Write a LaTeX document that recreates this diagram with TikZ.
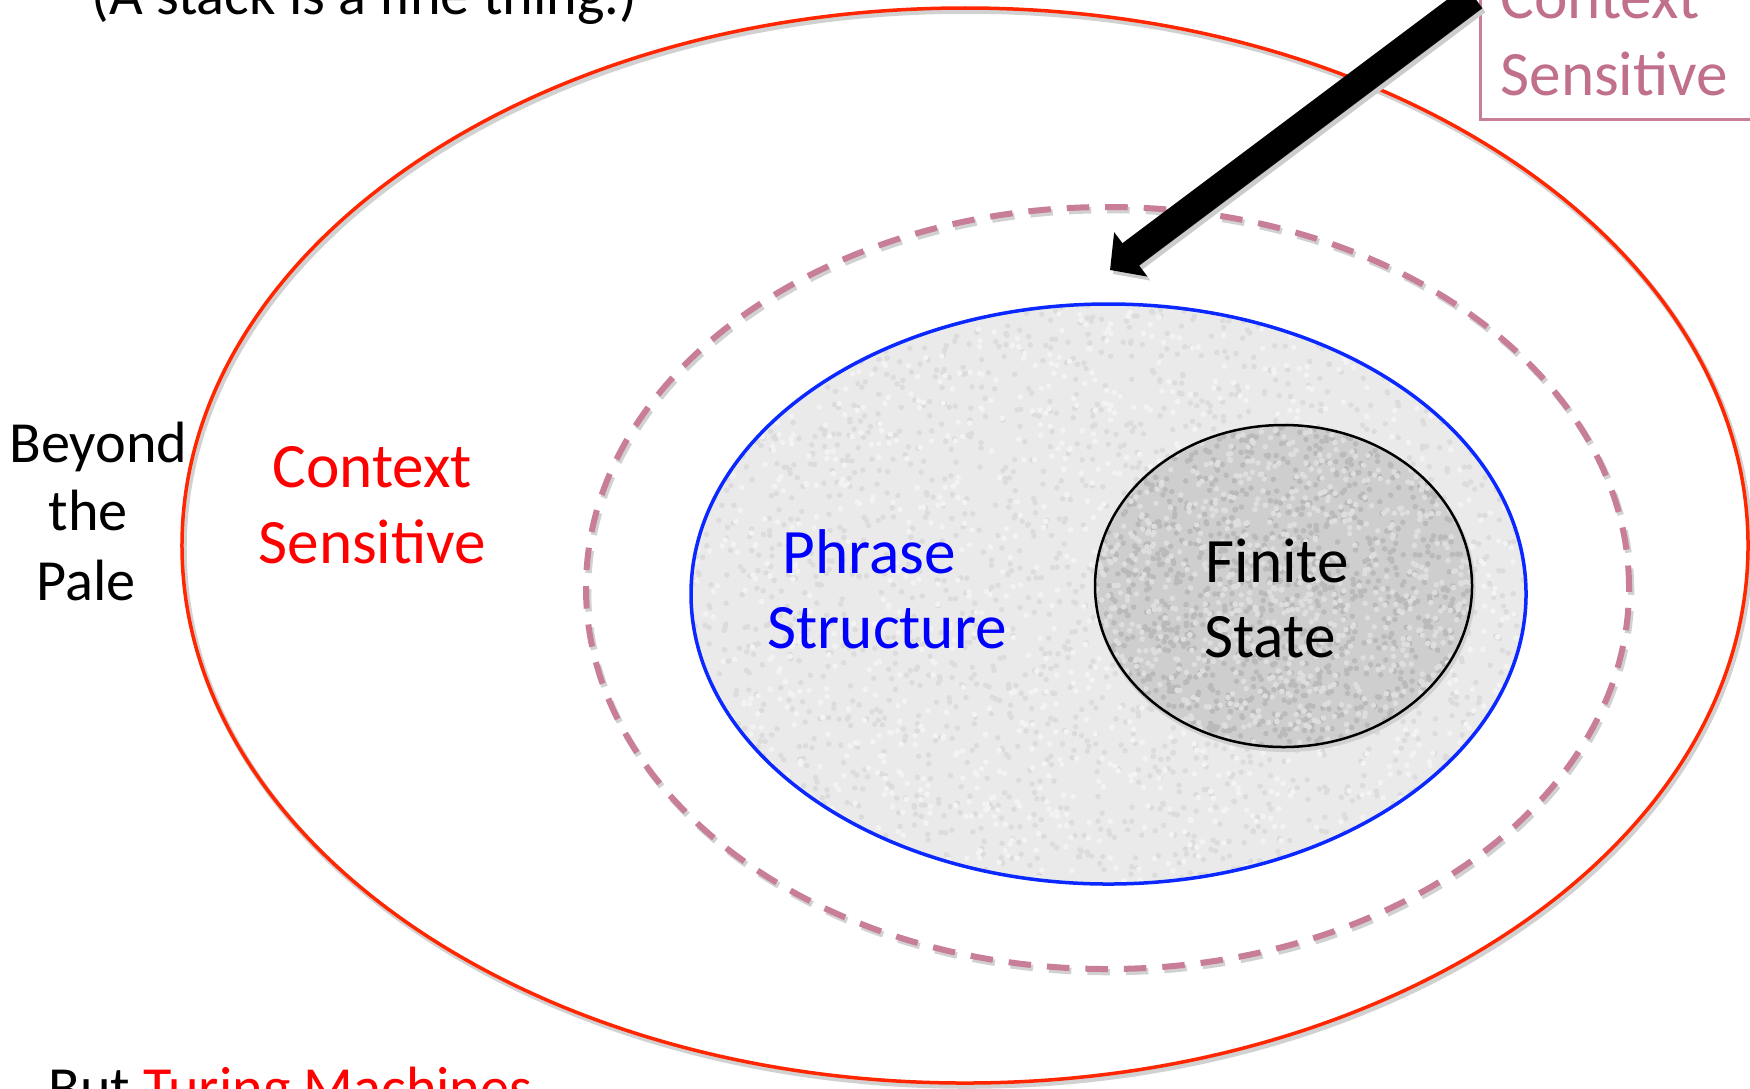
\documentclass[tikz,border=0pt]{standalone}
\usepackage{fontspec}
\setmainfont{Carlito}
\usetikzlibrary{arrows.meta}
\definecolor{cred}{RGB}{255,38,0}
\definecolor{tred}{RGB}{255,0,0}
\definecolor{cblue}{RGB}{10,40,255}
\definecolor{tblue}{RGB}{0,0,255}
\definecolor{mauve}{RGB}{200,125,152}
\definecolor{mauvetext}{RGB}{192,112,140}
\definecolor{fillA}{RGB}{234,234,234}
\definecolor{grainAd}{RGB}{220,220,220}
\definecolor{grainAl}{RGB}{243,243,243}
\definecolor{fillB}{RGB}{206,206,206}
\definecolor{grainBd}{RGB}{186,186,186}
\definecolor{grainBl}{RGB}{222,222,222}
\begin{document}
\begin{tikzpicture}[x=0.4pt,y=-0.4pt,
  lbl/.style={anchor=base west, inner sep=0pt, font=\fontsize{25.3pt}{30.4pt}\selectfont},
  small/.style={anchor=base west, inner sep=0pt, font=\fontsize{23.3pt}{28pt}\selectfont},
  shade/.style={draw=black!18, line width=#1},
  dashring/.style={draw=mauve, line width=2.4pt, dash pattern=on 9pt off 6.4pt},
  bigarrow/.style={line width=11.2pt, -{Triangle[length=10.4pt, width=21.6pt]}},
]
\useasboundingbox (0,0) rectangle (1750,1088);
\fill[white] (0,0) rectangle (1750,1088);
\pgfmathsetseed{4242}

% outer red ellipse (with soft shadow)
\draw[shade=2.2pt] (967,548.5) ellipse [x radius=313.2pt, y radius=215pt];
\draw[cred, line width=1.4pt] (965,545.5) ellipse [x radius=313.2pt, y radius=215pt];

% dashed ellipse
\draw[shade=2.6pt, dash pattern=on 9pt off 6.4pt] (1109.5,591) ellipse [x radius=208.6pt, y radius=152.4pt];
\draw[dashring] (1107.5,588) ellipse [x radius=208.6pt, y radius=152.4pt];

% phrase structure ellipse (light grainy fill)
\fill[fillA] (1108.5,594) ellipse [x radius=167pt, y radius=116pt];
\begin{scope}
  \clip (1108.5,594) ellipse [x radius=167pt, y radius=116pt];
  \foreach \i in {1,...,2200}{
    \fill[grainAd] (1108.5+420*rand,594+292*rand) circle (1.1pt);
  }
  \foreach \i in {1,...,1400}{
    \fill[grainAl] (1108.5+420*rand,594+292*rand) circle (1.1pt);
  }
\end{scope}
\draw[cblue, line width=1.4pt] (1108.5,594) ellipse [x radius=167pt, y radius=116pt];

% finite state ellipse (darker grainy fill)
\draw[shade=1.6pt] (1285,589) ellipse [x radius=75.4pt, y radius=64.4pt];
\fill[fillB] (1283.5,586) ellipse [x radius=75.4pt, y radius=64.4pt];
\begin{scope}
  \clip (1283.5,586) ellipse [x radius=75.4pt, y radius=64.4pt];
  \foreach \i in {1,...,1300}{
    \fill[grainBd] (1283.5+190*rand,586+163*rand) circle (1.1pt);
  }
  \foreach \i in {1,...,1000}{
    \fill[grainBl] (1283.5+190*rand,586+163*rand) circle (1.1pt);
  }
\end{scope}
\draw[black, line width=1pt] (1283.5,586) ellipse [x radius=75.4pt, y radius=64.4pt];

% box at top right
\draw[mauve, line width=1.2pt] (1760,119) -- (1480,119) -- (1480,-20);
\node[lbl, text=mauvetext] (boxctx) at (1500,18) {Context};
\node[lbl, text=mauvetext] (boxsen) at (1500,95) {Sensitive};

% arrow
\coordinate (arrtail) at (1474,-3);
\coordinate (arrtip) at (1110,270);
\coordinate (arrtailS) at (1477,1);
\coordinate (arrtipS) at (1113,274);
\draw[black!20, bigarrow] (arrtailS) -- (arrtipS);
\draw[black, bigarrow] (arrtail) -- (arrtip);

% texts
\node[small] (topnote) at (91,14) {(A stack is a fine thing.)};
\node[small] (beyond) at (9,462) {Beyond};
\node[small] (the) at (48,530) {the};
\node[small] (pale) at (36,600) {Pale};
\node[lbl, text=tred] (csctx) at (272,487) {Context};
\node[lbl, text=tred] (cssen) at (258,563) {Sensitive};
\node[lbl, text=tblue] (phrase) at (782,573) {Phrase};
\node[lbl, text=tblue] (structure) at (767,648) {Structure};
\node[lbl] (finite) at (1205,582) {Finite};
\node[lbl] (state) at (1204,657) {State};
\node[small] (turing) at (48,1107) {But \textcolor{tred}{Turing Machines}};
\end{tikzpicture}
\end{document}
